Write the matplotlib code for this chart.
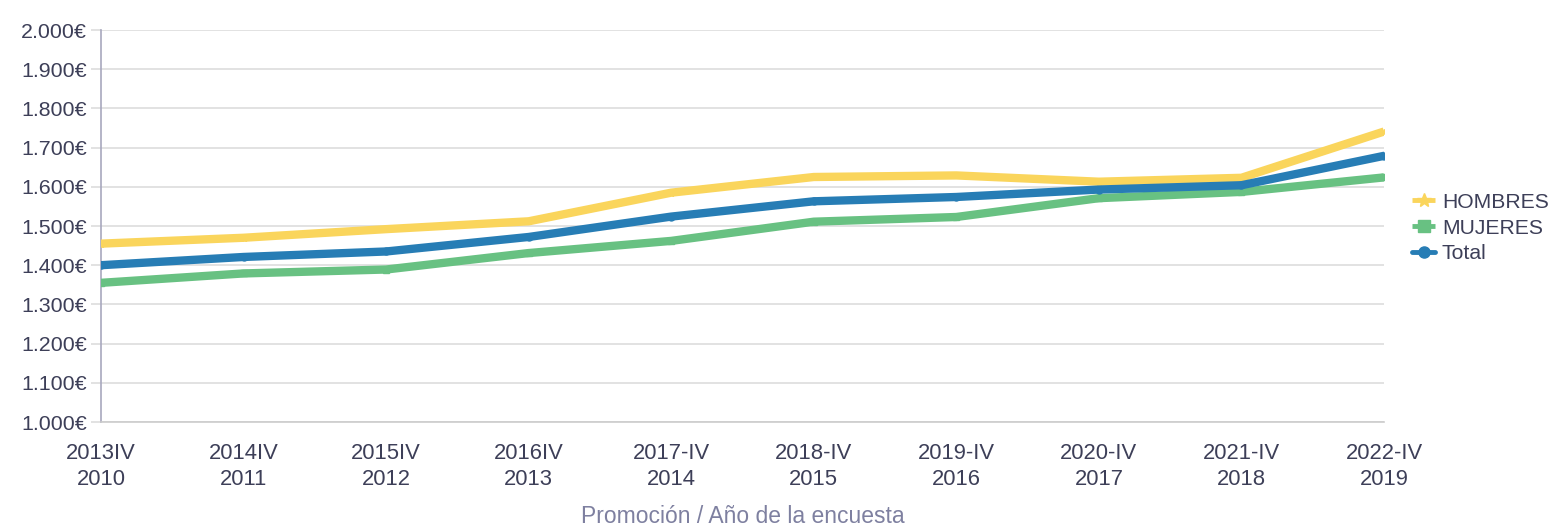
import matplotlib
matplotlib.use("Agg")
import matplotlib.pyplot as plt
from matplotlib.ticker import FuncFormatter

plt.rcParams['font.family'] = ['Liberation Sans', 'DejaVu Sans']

years = [2010, 2011, 2012, 2013, 2014, 2015, 2016, 2017, 2018, 2019]
x_labels = ["2013IV\n2010", "2014IV\n2011", "2015IV\n2012", "2016IV\n2013",
            "2017-IV\n2014", "2018-IV\n2015", "2019-IV\n2016", "2020-IV\n2017",
            "2021-IV\n2018", "2022-IV\n2019"]
hombres = [1455, 1470, 1492, 1512, 1585, 1625, 1629, 1613, 1623, 1741]
mujeres = [1355, 1379, 1389, 1431, 1462, 1511, 1523, 1571, 1587, 1624]
total = [1400, 1421, 1435, 1472, 1524, 1563, 1574, 1593, 1604, 1679]
y_ticks = [1000, 1100, 1200, 1300, 1400, 1500, 1600, 1700, 1800, 1900, 2000]

c_h = "#FAD55C"
c_m = "#68C182"
c_t = "#277DB5"
txt = "#3D3F58"

fig = plt.figure(figsize=(15.54, 5.27), dpi=100)
ax = fig.add_axes([101/1554, 1 - 422/527, (1384-101)/1554, (422-30)/527])

idx = list(range(len(years)))
ax.plot(idx, hombres, color=c_h, lw=6, marker="*", ms=5, label="HOMBRES",
        solid_capstyle="butt", solid_joinstyle="round", zorder=3)
ax.plot(idx, mujeres, color=c_m, lw=6, marker="s", ms=5, label="MUJERES",
        solid_capstyle="butt", solid_joinstyle="round", zorder=4)
ax.plot(idx, total, color=c_t, lw=6, marker="o", ms=5, label="Total",
        solid_capstyle="round", solid_joinstyle="round", zorder=5)

ax.set_xlim(0, len(years) - 1)
ax.set_ylim(1000, 2000)
ax.set_yticks(y_ticks)
ax.yaxis.set_major_formatter(FuncFormatter(lambda v, p: f"{int(v):,}€".replace(",", ".")))
ax.set_xticks(idx)
ax.set_xticklabels(x_labels)

ax.grid(axis="y", color="#DDDDDD", lw=1.2)
ax.set_axisbelow(True)
for s in ["top", "right"]:
    ax.spines[s].set_visible(False)
ax.spines["left"].set_color("#A8A8BE")
ax.spines["left"].set_linewidth(1.2)
ax.spines["bottom"].set_color("#CCCCCC")
ax.spines["bottom"].set_linewidth(1.2)
ax.tick_params(axis="y", length=7, color="#DDDDDD", width=1.2, labelsize=15.4,
               labelcolor=txt, pad=3)
ax.tick_params(axis="x", length=0, labelsize=15.8, labelcolor=txt, pad=15)
for lab in ax.get_xticklabels():
    lab.set_linespacing(1.3)

ax.set_xlabel("Promoción / Año de la encuesta", fontsize=16.5, color="#7E80A0",
              labelpad=11)

leg = fig.legend(loc="center left", bbox_to_anchor=(1404/1554, 1 - 228/527),
                 frameon=False, fontsize=15.2, handlelength=1.05, handletextpad=0.35,
                 labelspacing=0.32, borderaxespad=0)
for t in leg.get_texts():
    t.set_color(txt)
for h, m in zip(leg.legend_handles, ["*", "s", "o"]):
    h.set_linewidth(3.5)
    h.set_marker(m)
    h.set_markersize(10 if m == "*" else 8)

fig.savefig("out.png", dpi=100)
